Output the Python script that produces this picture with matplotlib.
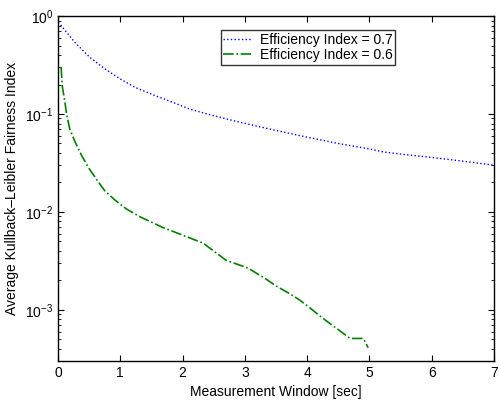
import matplotlib
matplotlib.use("Agg")
import matplotlib.pyplot as plt
from matplotlib.ticker import LogLocator, NullFormatter

plt.rcParams['font.family'] = ['Liberation Sans', 'DejaVu Sans']

# Efficiency index 0.7 (blue dotted)
x_07 = [0.0, 0.03, 0.27, 0.51, 0.75, 1.0, 1.24, 1.56, 1.8, 2.12, 2.5, 2.9, 3.5, 4.0, 4.5, 5.0, 5.22, 5.5, 6.0, 6.5, 7.0]
y_07 = [0.86, 0.83, 0.54, 0.38, 0.29, 0.228, 0.187, 0.154, 0.135, 0.112, 0.096, 0.083, 0.068, 0.058, 0.05, 0.044, 0.041, 0.039, 0.036, 0.033, 0.030]

# Efficiency index 0.6 (green dash-dot)
x_06 = [0.05, 0.07, 0.11, 0.14, 0.19, 0.28, 0.38, 0.49, 0.62, 0.75, 0.91, 1.1, 1.32, 1.69, 2.0, 2.33, 2.7, 3.03, 3.08, 3.32, 3.51,
        3.72, 3.88, 4.05, 4.2, 4.37, 4.51, 4.69, 4.9, 4.98]
y_06 = [0.30, 0.19, 0.134, 0.098, 0.070, 0.051, 0.0376, 0.0283, 0.0214, 0.0165, 0.0133, 0.0107, 0.0089, 0.0069, 0.0058, 0.0048, 0.0032, 0.0027, 0.0026, 0.0021, 0.00174,
        0.00146, 0.00126, 0.00104, 0.00087, 0.00072, 0.00062, 0.00051, 0.00051, 0.00041]

fig = plt.figure(figsize=(4.99, 4.03), dpi=100)
ax = fig.add_axes([0.1162, 0.1042, 0.8738, 0.8558])

ax.semilogy(x_07, y_07, color='blue', linestyle=':', linewidth=1.0, label='Efficiency Index = 0.7')
ax.semilogy(x_06, y_06, color=(0, 0.5, 0), linestyle='-.', linewidth=1.2, label='Efficiency Index = 0.6')

ax.set_xlim(0, 7)
ax.set_ylim(3e-4, 1)
ax.set_xticks(range(0, 8))
ax.yaxis.set_major_locator(LogLocator(base=10, numticks=10))
ax.yaxis.set_minor_locator(LogLocator(base=10, subs=range(2, 10), numticks=20))
ax.yaxis.set_minor_formatter(NullFormatter())

ax.tick_params(which='both', direction='in', top=True, right=True, labelsize=10)
ax.tick_params(which='major', length=4)
ax.tick_params(which='minor', length=2)
for s in ax.spines.values():
    s.set_linewidth(1.0)

ax.set_xlabel('Measurement Window [sec]', fontsize=10)
ax.set_ylabel('Average Kullback\u2013Leibler Fairness Index', fontsize=10)

leg = ax.legend(loc='upper left', bbox_to_anchor=(0.373, 0.959), fontsize=10, frameon=True,
                fancybox=False, edgecolor='black', handlelength=2.0, borderpad=0.2,
                labelspacing=0.05, handletextpad=0.6, borderaxespad=0)
leg.get_frame().set_linewidth(1.0)

fig.savefig('out.png', dpi=100)
